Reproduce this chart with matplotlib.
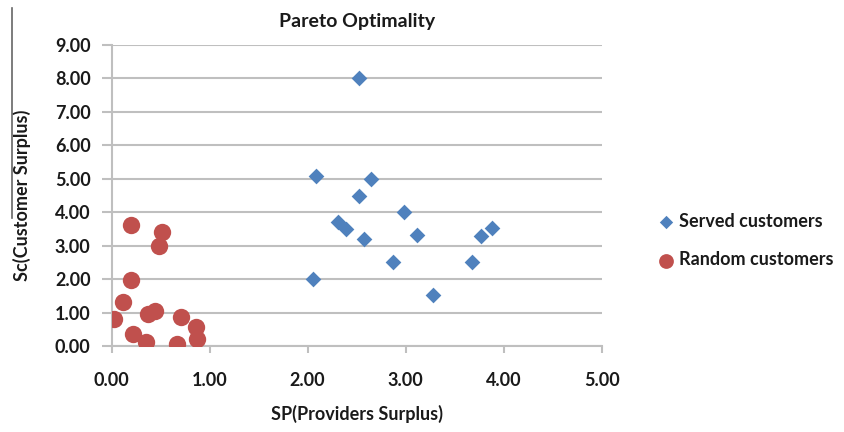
import matplotlib.pyplot as plt
from matplotlib.lines import Line2D

# values
served_x = [2.52, 2.09, 2.65, 2.52, 2.98, 2.31, 2.39, 2.58, 3.12, 3.77, 3.88, 2.87, 3.68, 2.06, 3.28]
served_y = [8.00, 5.09, 4.99, 4.49, 4.02, 3.72, 3.50, 3.20, 3.32, 3.30, 3.52, 2.51, 2.51, 2.00, 1.52]

random_x = [0.20, 0.51, 0.48, 0.20, 0.12, 0.02, 0.37, 0.44, 0.71, 0.86, 0.87, 0.22, 0.35, 0.67]
random_y = [3.61, 3.41, 2.99, 1.97, 1.32, 0.82, 0.97, 1.04, 0.87, 0.57, 0.22, 0.37, 0.12, 0.05]

x_ticks = [0, 1, 2, 3, 4, 5]
y_ticks = [0, 1, 2, 3, 4, 5, 6, 7, 8, 9]

plt.rcParams['font.family'] = ['Lato', 'DejaVu Sans']
plt.rcParams['font.weight'] = 'bold'

fig = plt.figure(figsize=(8.45, 4.32), dpi=100)
ax = fig.add_axes([0.132, 0.199, 0.58, 0.697])

grid_col = '#bfbfbf'
ax.scatter(served_x, served_y, marker='D', s=8.0**2, color='#4f81bd', label='Served customers', zorder=3, linewidths=0)
ax.scatter(random_x, random_y, marker='o', s=12.5**2, color='#c0504d', label='Random customers', zorder=3, linewidths=0)

ax.set_xlim(0, 5)
ax.set_ylim(0, 9)
ax.set_xticks(x_ticks)
ax.set_yticks(y_ticks)
ax.set_xticklabels(['%.2f' % v for v in x_ticks])
ax.set_yticklabels(['%.2f' % v for v in y_ticks])
ax.tick_params(axis='both', labelsize=13, colors=grid_col, labelcolor='#1a1a1a', width=1.5)
ax.tick_params(axis='y', length=7, pad=8)
ax.tick_params(axis='x', length=5, pad=14)
ax.yaxis.grid(True, color=grid_col, linewidth=1.5)
ax.set_axisbelow(True)
for s in ['top', 'right']:
    ax.spines[s].set_visible(False)
for s in ['left', 'bottom']:
    ax.spines[s].set_color(grid_col)
    ax.spines[s].set_linewidth(1.5)

ax.set_title('Pareto Optimality', fontsize=14, fontweight='bold', pad=13, color='#1a1a1a')
ax.set_xlabel('SP(Providers Surplus)', fontsize=13, fontweight='bold', labelpad=11, color='#1a1a1a')
ax.set_ylabel('Sc(Customer Surplus)', fontsize=13, fontweight='bold', labelpad=17, color='#1a1a1a')

leg = ax.legend(loc='center left', bbox_to_anchor=(1.08, 0.35), frameon=False, fontsize=13,
                handletextpad=0.2, labelspacing=1.2, markerscale=0.85, handlelength=1.0)
for t in leg.get_texts():
    t.set_color('#1a1a1a')

# thin gray rule at the left edge of the scan
fig.add_artist(Line2D([0.014, 0.014], [1 - 8 / 432, 1 - 218 / 432], color='#666666', linewidth=1.2))

fig.savefig('out.png', dpi=100)
